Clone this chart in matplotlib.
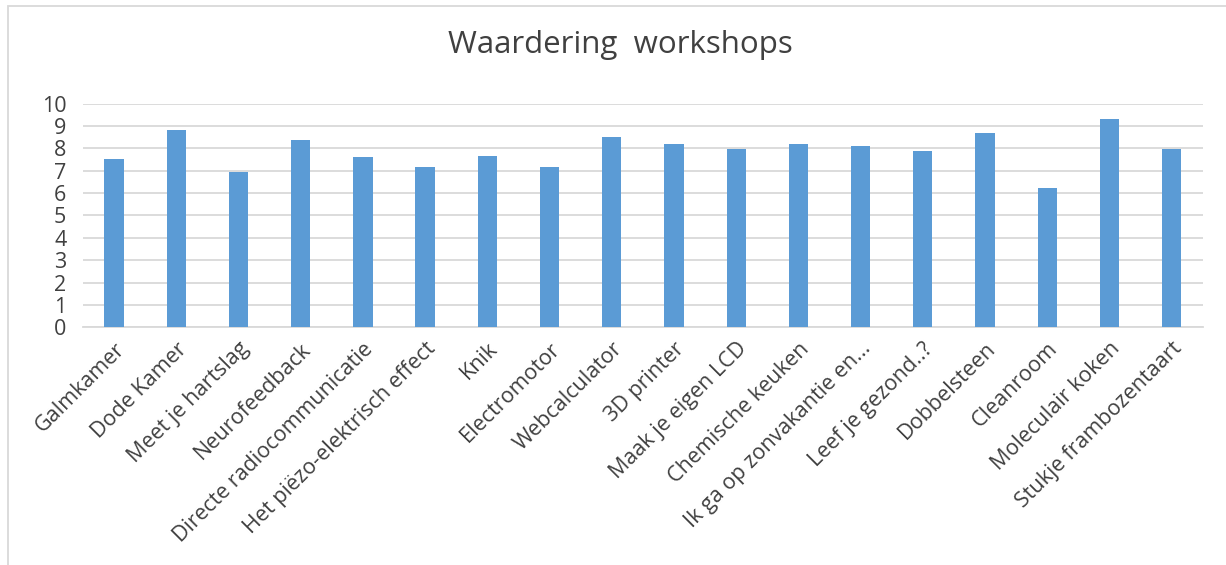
import matplotlib
matplotlib.use("Agg")
import matplotlib.pyplot as plt
from matplotlib.patches import Rectangle

categories = ["Galmkamer", "Dode Kamer", "Meet je hartslag", "Neurofeedback",
              "Directe radiocommunicatie", "Het piëzo-elektrisch effect", "Knik",
              "Electromotor", "Webcalculator", "3D printer", "Maak je eigen LCD",
              "Chemische keuken", "Ik ga op zonvakantie en...", "Leef je gezond..?",
              "Dobbelsteen", "Cleanroom", "Moleculair koken", "Stukje frambozentaart"]
values = [7.53, 8.82, 6.96, 8.39, 7.60, 7.17, 7.67, 7.17, 8.52, 8.18, 7.96,
          8.18, 8.09, 7.88, 8.67, 6.24, 9.31, 7.96]
yticks = list(range(0, 11))
title = "Waardering  workshops"

plt.rcParams['font.family'] = ['Open Sans', 'DejaVu Sans']

fig = plt.figure(figsize=(12.26, 5.65), dpi=100)
ax = fig.add_axes([0.0677, 0.4207, 0.9133, 0.3958])

x = list(range(len(categories)))
ax.bar(x, values, width=0.31, color="#5B9BD5", zorder=3)
ax.set_xlim(-0.5, len(categories) - 0.5)
ax.set_ylim(0, 10)
ax.set_yticks(yticks)
ax.set_yticklabels([str(t) for t in yticks], fontsize=15.5, color="#404040")
ax.set_xticks(x)
ax.set_xticklabels(categories, rotation=45, ha="right", va="top",
                   rotation_mode="anchor", fontsize=15.5, color="#404040")
ax.tick_params(axis="both", length=0)
ax.tick_params(axis="x", pad=8)
ax.tick_params(axis="y", pad=12)
ax.grid(axis="y", color="#D9D9D9", linewidth=1.3, zorder=0)
for s in ["top", "right", "left"]:
    ax.spines[s].set_visible(False)
ax.spines["bottom"].set_color("#D9D9D9")
ax.spines["bottom"].set_linewidth(1.3)

fig.text(0.506, 0.921, title, ha="center", va="center", fontsize=22.5, color="#404040")

# chart border
fig.patches.append(Rectangle((8 / 1226, -0.01), 1.02, 1 - 6 / 565 + 0.01,
                             transform=fig.transFigure, fill=False,
                             edgecolor="#D9D9D9", linewidth=1.3))

fig.savefig("out.png", dpi=100)
